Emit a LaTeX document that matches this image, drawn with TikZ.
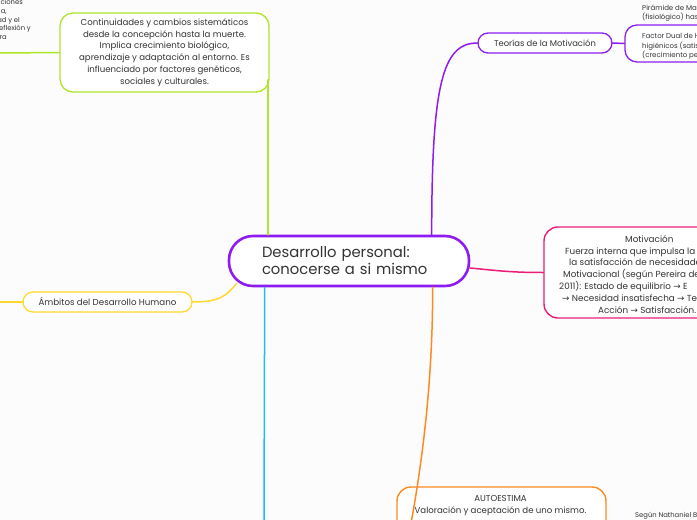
\documentclass[tikz,border=0pt]{standalone}
\usepackage{fontspec}
\setmainfont{Poppins}
\newfontfamily\symf{DejaVu Sans}
\newcommand\rarr{{\symf →}}
\definecolor{bgc}{HTML}{FCFCFC}
\definecolor{txtc}{HTML}{333333}
\definecolor{purpc}{HTML}{8E1CF0}
\definecolor{limec}{HTML}{ADE62A}
\definecolor{goldc}{HTML}{FFD92E}
\definecolor{skyc}{HTML}{1DBDF3}
\definecolor{rosec}{HTML}{EE1C79}
\definecolor{orngc}{HTML}{FF8A1F}
\tikzset{
  conn/.style={line width=1.5pt, line cap=round},
  topicbox/.style={draw, rounded corners=#1, fill=white, text=txtc, inner sep=0pt},
  plain/.style={text=txtc, inner sep=0pt},
}
\begin{document}
\begin{tikzpicture}[x=1pt,y=-1pt]
\useasboundingbox (0,0) rectangle (697,520);
\fill[bgc] (0,0) rectangle (697,520);
\clip (0,0) rectangle (697,520);

% top-left cut text (base anchor = last line)
\node[plain, anchor=base east, align=right, font=\fontsize{6.8}{8.75}\selectfont] (leftcut) at (31,39.5)
  {ciones\kern8pt\\a,\kern24pt\\ad y el\kern11pt\\eflexión y\\ra\kern24pt};

% green box
\node[topicbox=13pt, draw=limec, line width=1.3pt, minimum width=209pt, minimum height=79pt,
      align=center, font=\fontsize{8.6}{11.7}\selectfont] (green) at (164.5,52.5)
  {Continuidades y cambios sistemáticos\\desde la concepción hasta la muerte.\\Implica crecimiento biológico,\\aprendizaje y adaptación al entorno. Es\\influenciado por factores genéticos,\\sociales y culturales.};

% central node
\node[topicbox=24pt, draw=purpc, line width=2.6pt, minimum width=240pt, minimum height=50pt,
      text width=174pt, inner xsep=33pt, align=left, font=\fontsize{14.8}{17}\selectfont] (center) at (349,261)
  {Desarrollo personal:\\conocerse a si mismo};

% ambitos
\node[topicbox=10pt, draw=goldc, line width=1.3pt, minimum width=169pt, minimum height=20pt,
      font=\fontsize{8.7}{10}\selectfont] (ambitos) at (107.5,302) {Ámbitos del Desarrollo Humano};

% teorias
\node[topicbox=10pt, draw=purpc, line width=1.3pt, minimum width=134pt, minimum height=20pt,
      font=\fontsize{8.4}{10}\selectfont] (teorias) at (545,43) {Teorías de la Motivación};

% piramide
\node[plain, anchor=base west, align=left, font=\fontsize{7}{9}\selectfont] (piramide) at (642,19.5)
  {Pirámide de Mas\\(fisiológico) has};

% factor
\node[topicbox=12pt, draw=purpc, line width=1.3pt, minimum width=150pt, minimum height=37pt] (factor) at (700,43.5) {};
\node[plain, anchor=base west, align=left, font=\fontsize{7}{9.5}\selectfont] (factortxt) at (642,57.5)
  {Factor Dual de H\\higiénicos (satis\\(crecimiento per};

% motivacion
\node[topicbox=14pt, draw=rosec, line width=1.4pt, minimum width=212pt, minimum height=91pt] (motiv) at (650,272.5) {};
\node[plain, anchor=base west, align=left, font=\fontsize{8.8}{11.8}\selectfont] (motivtxt) at (559,313)
  {\kern66pt Motivación\\\kern6pt Fuerza interna que impulsa la\\\kern10pt la satisfacción de necesidade\\\kern4pt Motivacional (según Pereira de\\2011): Estado de equilibrio \rarr{} E\\\kern3pt \rarr{} Necesidad insatisfecha \rarr{} Te\\\kern39pt Acción \rarr{} Satisfacción.};

% autoestima
\node[topicbox=14pt, draw=orngc, line width=1.4pt, minimum width=209pt, minimum height=73pt] (autoest) at (501.5,523.5) {};
\node[plain, anchor=base, align=center, font=\fontsize{8.6}{12}\selectfont] (autotxt) at (500.5,513)
  {AUTOESTIMA\\Valoración y aceptación de uno mismo.};

% segun
\node[plain, anchor=base west, font=\fontsize{6.8}{8}\selectfont] (segun) at (635,517.5) {Según Nathaniel B};

% free ends
\coordinate (greenleft) at (0,53);
\coordinate (ambleft) at (0,302);
\coordinate (blueend) at (264,522);
\coordinate (orangeend) at (404,560);
\coordinate (gx) at (268,80);

% connectors
\draw[conn, limec] (greenleft) -- (green.west);
\draw[conn, limec, line width=2pt] (gx) -- (gx |- center.north);
\draw[conn, goldc] (ambleft) -- (ambitos.west);
\draw[conn, goldc] (ambitos.east) .. controls +(28,0) and +(-10,12) .. ([shift={(9,-4)}]center.south west);
\draw[conn, skyc] ([xshift=37pt]center.south west) -- (blueend);
\draw[conn, purpc] ([xshift=204pt]center.north west) .. controls +(0,-150) and +(-35,0) .. (teorias.west);
\draw[conn, purpc] (teorias.east) -- (factor.west);
\draw[conn, rosec] ([yshift=-7pt]center.east) .. controls +(30,3) and +(-30,0) .. (motiv.west);
\draw[conn, orngc] ([xshift=205pt]center.south west) .. controls +(0,120) and +(12,-60) .. (orangeend);
\end{tikzpicture}
\end{document}
